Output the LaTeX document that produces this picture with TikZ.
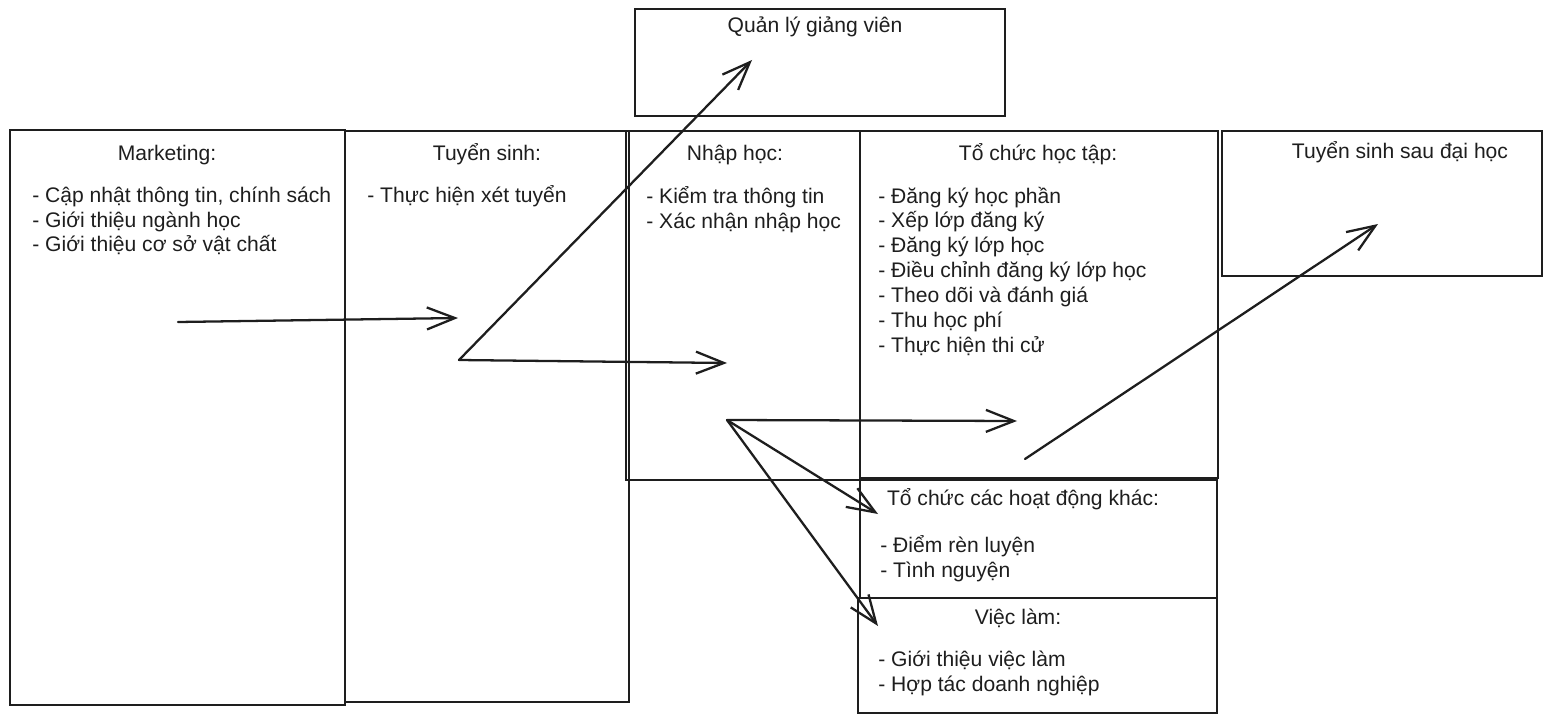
\documentclass[tikz,border=0pt]{standalone}
\usepackage{fontspec}
\setmainfont{Liberation Sans}
\usetikzlibrary{arrows.meta}
\definecolor{ink}{HTML}{1E1E1E}
\tikzset{
  box/.style={draw=ink, line width=1.5pt, rectangle, inner sep=0pt, outer sep=0pt, anchor=north west},
  title/.style={text=ink, inner sep=0pt, font=\fontsize{12}{15}\selectfont, anchor=mid},
  item/.style={text=ink, inner sep=0pt, font=\fontsize{12}{15}\selectfont, anchor=mid west},
  conn/.style={draw=ink, line width=1.3pt, line cap=round, -{Straight Barb[length=0.56cm, width=0.44cm, line width=1.3pt]}}
}
\begin{document}
\begin{tikzpicture}[x=0.02cm, y=-0.02cm]
\useasboundingbox (0,0) rectangle (1551,723);
% boxes
\node[box, minimum width=6.7cm, minimum height=11.5cm] (mk) at (10,130) {};
\node[box, minimum width=5.68cm, minimum height=11.42cm] (ts) at (345,131) {};
\node[box, minimum width=4.68cm, minimum height=6.98cm] (nh) at (626,131) {};
\node[box, minimum width=7.16cm, minimum height=6.94cm] (tc) at (860,131) {};
\node[box, minimum width=6.4cm, minimum height=2.9cm] (sdh) at (1222,131) {};
\node[box, minimum width=7.4cm, minimum height=2.14cm] (gv) at (635,9) {};
\node[box, minimum width=7.14cm, minimum height=2.36cm] (hd) at (860,480) {};
\node[box, minimum width=7.18cm, minimum height=2.3cm] (vl) at (858,598) {};
% titles
\node[title] (mkt) at (167,156) {Marketing:};
\node[title] (tst) at (487,156) {Tuyển sinh:};
\node[title] (nht) at (735,156) {Nhập học:};
\node[title] (tct) at (1038,156) {Tổ chức học tập:};
\node[title] (sdht) at (1400,154) {Tuyển sinh sau đại học};
\node[title] (gvt) at (815,28) {Quản lý giảng viên};
\node[title] (hdt) at (1023,501) {Tổ chức các hoạt động khác:};
\node[title] (vlt) at (1018,620) {Việc làm:};
% lists
\node[item] (mk1) at (32,198) {- Cập nhật thông tin, chính sách};
\node[item] (mk2) at (32,223) {- Giới thiệu ngành học};
\node[item] (mk3) at (32,247) {- Giới thiệu cơ sở vật chất};
\node[item] (ts1) at (367,198) {- Thực hiện xét tuyển};
\node[item] (nh1) at (646,199) {- Kiểm tra thông tin};
\node[item] (nh2) at (646,224) {- Xác nhận nhập học};
\node[item] (tc1) at (878,199) {- Đăng ký học phần};
\node[item] (tc2) at (878,223) {- Xếp lớp đăng ký};
\node[item] (tc3) at (878,248) {- Đăng ký lớp học};
\node[item] (tc4) at (878,273) {- Điều chỉnh đăng ký lớp học};
\node[item] (tc5) at (878,298) {- Theo dõi và đánh giá};
\node[item] (tc6) at (878,323) {- Thu học phí};
\node[item] (tc7) at (878,348) {- Thực hiện thi cử};
\node[item] (hd1) at (880,548) {- Điểm rèn luyện};
\node[item] (hd2) at (880,573) {- Tình nguyện};
\node[item] (vl1) at (878,662) {- Giới thiệu việc làm};
\node[item] (vl2) at (878,687) {- Hợp tác doanh nghiệp};
% connector points
\coordinate (p1) at (178,322);
\coordinate (p2) at (458,318);
\coordinate (q0) at (459,360);
\coordinate (q1) at (752,60);
\coordinate (q2) at (727,363);
\coordinate (r0) at (727,420);
\coordinate (r1) at (1017,421);
\coordinate (r2) at (878,514);
\coordinate (r3) at (878,626);
\coordinate (s0) at (1025,459);
\coordinate (s1) at (1378,224);
% connectors
\draw[conn] (p1) -- (p2);
\draw[conn] (q0) -- (q1);
\draw[conn] (q0) -- (q2);
\draw[conn] (r0) -- (r1);
\draw[conn] (r0) -- (r2);
\draw[conn] (r0) -- (r3);
\draw[conn] (s0) -- (s1);
\end{tikzpicture}
\end{document}
